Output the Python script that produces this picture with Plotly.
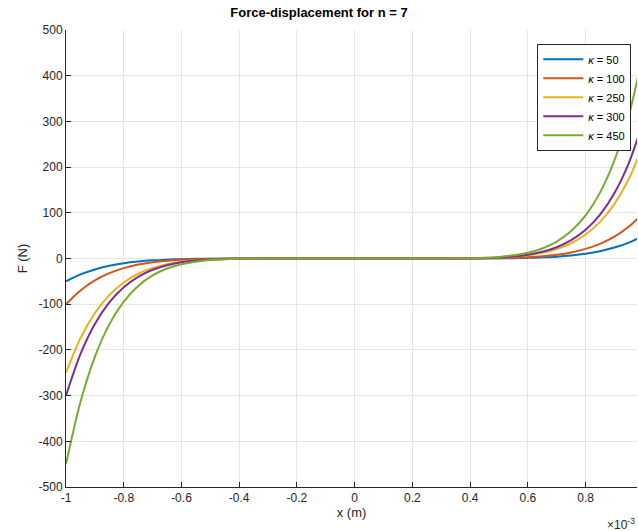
import plotly.graph_objects as go

# Displacement samples (m, scaled) and force values (N)
x_vals = [-1.0, -0.95, -0.9, -0.85, -0.8, -0.75, -0.7, -0.65, -0.6, -0.55, -0.5, -0.45, -0.4, -0.3, -0.2, 0.0,
          0.2, 0.3, 0.4, 0.45, 0.5, 0.55, 0.6, 0.65, 0.7, 0.75, 0.8, 0.85, 0.9, 0.95, 1.0]

f_k50 = [-50, -34.9, -23.9, -16.0, -10.5, -6.7, -4.1, -2.5, -1.4, -0.76, -0.39, -0.19, -0.08, -0.01, 0, 0,
         0, 0.01, 0.08, 0.19, 0.39, 0.76, 1.4, 2.5, 4.1, 6.7, 10.5, 16.0, 23.9, 34.9, 50]
f_k100 = [-100, -69.8, -47.8, -32.1, -21.0, -13.3, -8.2, -4.9, -2.8, -1.5, -0.78, -0.37, -0.16, -0.02, 0, 0,
          0, 0.02, 0.16, 0.37, 0.78, 1.5, 2.8, 4.9, 8.2, 13.3, 21.0, 32.1, 47.8, 69.8, 100]
f_k250 = [-250, -174.6, -119.6, -80.1, -52.4, -33.4, -20.6, -12.3, -7.0, -3.8, -1.95, -0.93, -0.41, -0.05, 0, 0,
          0, 0.05, 0.41, 0.93, 1.95, 3.8, 7.0, 12.3, 20.6, 33.4, 52.4, 80.1, 119.6, 174.6, 250]
f_k300 = [-300, -209.5, -143.5, -96.2, -62.9, -40.0, -24.7, -14.7, -8.4, -4.6, -2.3, -1.1, -0.49, -0.07, 0, 0,
          0, 0.07, 0.49, 1.1, 2.3, 4.6, 8.4, 14.7, 24.7, 40.0, 62.9, 96.2, 143.5, 209.5, 300]
f_k450 = [-450, -314.2, -215.2, -144.2, -94.4, -60.1, -37.1, -22.0, -12.6, -6.9, -3.5, -1.7, -0.74, -0.1, 0, 0,
          0, 0.1, 0.74, 1.7, 3.5, 6.9, 12.6, 22.0, 37.1, 60.1, 94.4, 144.2, 215.2, 314.2, 450]

series_names = ["<i>κ</i> = 50", "<i>κ</i> = 100", "<i>κ</i> = 250", "<i>κ</i> = 300", "<i>κ</i> = 450"]
series_vals = [f_k50, f_k100, f_k250, f_k300, f_k450]
colors = ["#0072BD", "#D95319", "#EDB120", "#7E2F8E", "#77AC30"]

x_ticks = [-1, -0.8, -0.6, -0.4, -0.2, 0, 0.2, 0.4, 0.6, 0.8]
x_ticktext = ["-1", "-0.8", "-0.6", "-0.4", "-0.2", "0", "0.2", "0.4", "0.6", "0.8"]
y_ticks = [-500, -400, -300, -200, -100, 0, 100, 200, 300, 400, 500]
y_ticktext = ["-500", "-400", "-300", "-200", "-100", "0", "100", "200", "300", "400", "500"]

FONT = "Liberation Sans, Arial"

fig = go.Figure()
for name, vals, c in zip(series_names, series_vals, colors):
    fig.add_trace(go.Scatter(x=x_vals, y=vals, mode="lines", name=name,
                             line=dict(color=c, width=2, shape="spline", smoothing=0.8)))

axis_common = dict(showgrid=True, gridcolor="#E6E6E6", gridwidth=1, zeroline=False,
                   showline=True, linecolor="#262626", linewidth=1,
                   ticks="inside", ticklen=5, tickcolor="#262626",
                   tickfont=dict(family=FONT, size=12, color="#262626"))

fig.update_xaxes(range=[-1, 0.978], tickvals=x_ticks, ticktext=x_ticktext,
                 title=dict(text="x (m)", font=dict(family=FONT, size=13, color="#262626"),
                            standoff=3),
                 **axis_common)
fig.update_yaxes(range=[-500, 500], tickvals=y_ticks, ticktext=y_ticktext,
                 title=dict(text="F (N)", font=dict(family=FONT, size=13, color="#262626"),
                            standoff=8),
                 **axis_common)

fig.add_annotation(text="×10<sup>-3</sup>", xref="paper", yref="paper", x=1.0, y=-0.058,
                   xanchor="right", yanchor="top", showarrow=False,
                   font=dict(family=FONT, size=12, color="#262626"))

fig.update_layout(
    width=638, height=531,
    margin=dict(l=66, r=1, t=30, b=44),
    paper_bgcolor="white", plot_bgcolor="white",
    title=dict(text="<b>Force-displacement for n = 7</b>", x=0.5, xanchor="center", y=0.977, yanchor="middle",
               font=dict(family=FONT, size=13, color="black")),
    legend=dict(x=0.99, y=0.97, xanchor="right", yanchor="top",
                bgcolor="white", bordercolor="#262626", borderwidth=1,
                font=dict(family=FONT, size=11, color="black"),
                tracegroupgap=0, itemwidth=40),
    showlegend=True,
)

fig.write_html("out.html")
